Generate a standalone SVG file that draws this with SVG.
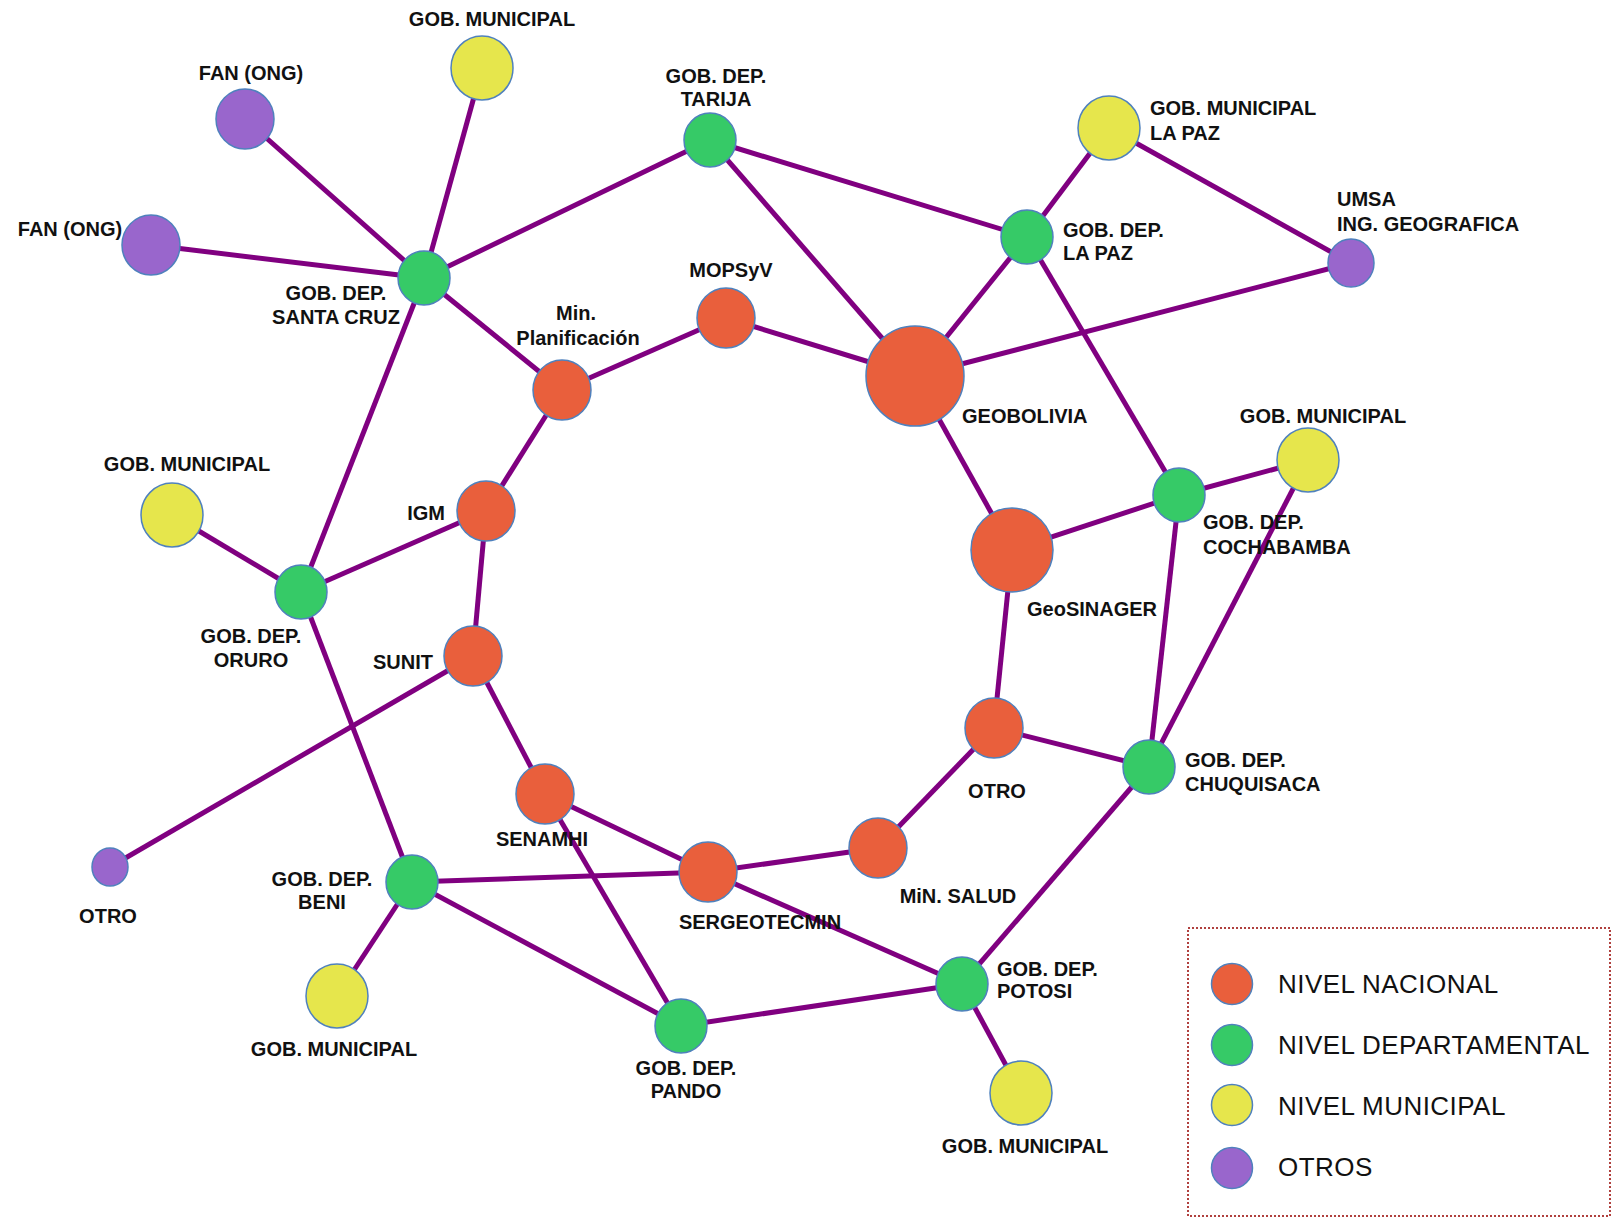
<svg xmlns="http://www.w3.org/2000/svg" width="1614" height="1224" viewBox="0 0 1614 1224">
<style>
.e{stroke:#800080;stroke-width:5;fill:none}
.n{stroke:#4F81BD;stroke-width:1.5}
.nac{fill:#E95F3C}
.dep{fill:#36CA67}
.mun{fill:#E6E64C}
.otr{fill:#9966CC}
text{font-family:"Liberation Sans",Arial,sans-serif;fill:#111}
.l{font-size:20px;font-weight:bold}
.c{text-anchor:middle}
.r{text-anchor:end}
.lg{font-size:26px;letter-spacing:0.45px}
</style>
<rect width="1614" height="1224" fill="#fff"/>
<g id="connectors">
<line class="e" x1="245" y1="119" x2="424" y2="278"/>
<line class="e" x1="482" y1="68" x2="424" y2="278"/>
<line class="e" x1="151" y1="245" x2="424" y2="278"/>
<line class="e" x1="424" y1="278" x2="710" y2="140"/>
<line class="e" x1="424" y1="278" x2="562" y2="390"/>
<line class="e" x1="424" y1="278" x2="301" y2="592"/>
<line class="e" x1="710" y1="140" x2="1027" y2="237"/>
<line class="e" x1="710" y1="140" x2="915" y2="376"/>
<line class="e" x1="726" y1="318" x2="562" y2="390"/>
<line class="e" x1="726" y1="318" x2="915" y2="376"/>
<line class="e" x1="915" y1="376" x2="1027" y2="237"/>
<line class="e" x1="915" y1="376" x2="1351" y2="263"/>
<line class="e" x1="915" y1="376" x2="1012" y2="550"/>
<line class="e" x1="1027" y1="237" x2="1109" y2="128"/>
<line class="e" x1="1109" y1="128" x2="1351" y2="263"/>
<line class="e" x1="1027" y1="237" x2="1179" y2="495"/>
<line class="e" x1="1179" y1="495" x2="1308" y2="460"/>
<line class="e" x1="1179" y1="495" x2="1012" y2="550"/>
<line class="e" x1="1179" y1="495" x2="1149" y2="767"/>
<line class="e" x1="1308" y1="460" x2="1149" y2="767"/>
<line class="e" x1="1012" y1="550" x2="994" y2="728"/>
<line class="e" x1="994" y1="728" x2="1149" y2="767"/>
<line class="e" x1="994" y1="728" x2="878" y2="848"/>
<line class="e" x1="1149" y1="767" x2="962" y2="984"/>
<line class="e" x1="562" y1="390" x2="486" y2="511"/>
<line class="e" x1="486" y1="511" x2="301" y2="592"/>
<line class="e" x1="486" y1="511" x2="473" y2="656"/>
<line class="e" x1="172" y1="515" x2="301" y2="592"/>
<line class="e" x1="301" y1="592" x2="412" y2="882"/>
<line class="e" x1="473" y1="656" x2="110" y2="867"/>
<line class="e" x1="473" y1="656" x2="545" y2="794"/>
<line class="e" x1="545" y1="794" x2="708" y2="872"/>
<line class="e" x1="545" y1="794" x2="681" y2="1026"/>
<line class="e" x1="878" y1="848" x2="708" y2="872"/>
<line class="e" x1="708" y1="872" x2="412" y2="882"/>
<line class="e" x1="708" y1="872" x2="962" y2="984"/>
<line class="e" x1="412" y1="882" x2="681" y2="1026"/>
<line class="e" x1="412" y1="882" x2="337" y2="996"/>
<line class="e" x1="681" y1="1026" x2="962" y2="984"/>
<line class="e" x1="962" y1="984" x2="1021" y2="1093"/>
</g>
<g id="gm-top"><ellipse class="n mun" cx="482" cy="68" rx="31" ry="32"/><text class="l c" x="492" y="26">GOB. MUNICIPAL</text></g>
<g id="fan-top"><ellipse class="n otr" cx="245" cy="119" rx="29" ry="30"/><text class="l c" x="251" y="80">FAN (ONG)</text></g>
<g id="fan-left"><ellipse class="n otr" cx="151" cy="245" rx="29" ry="30"/><text class="l c" x="70" y="236">FAN (ONG)</text></g>
<g id="dep-santacruz"><ellipse class="n dep" cx="424" cy="278" rx="26" ry="27"/><text class="l c" x="336" y="300">GOB. DEP.</text><text class="l c" x="336" y="324">SANTA CRUZ</text></g>
<g id="dep-tarija"><ellipse class="n dep" cx="710" cy="140" rx="26" ry="27"/><text class="l c" x="716" y="83">GOB. DEP.</text><text class="l c" x="716" y="106">TARIJA</text></g>
<g id="mopsyv"><ellipse class="n nac" cx="726" cy="318" rx="29" ry="30"/><text class="l c" x="731" y="277">MOPSyV</text></g>
<g id="minplan"><ellipse class="n nac" cx="562" cy="390" rx="29" ry="30"/><text class="l c" x="576" y="320">Min.</text><text class="l c" x="578" y="345">Planificación</text></g>
<g id="geobolivia"><ellipse class="n nac" cx="915" cy="376" rx="49" ry="50"/><text class="l" x="962" y="423">GEOBOLIVIA</text></g>
<g id="dep-lapaz"><ellipse class="n dep" cx="1027" cy="237" rx="26" ry="27"/><text class="l" x="1063" y="237">GOB. DEP.</text><text class="l" x="1063" y="260">LA PAZ</text></g>
<g id="gm-lapaz"><ellipse class="n mun" cx="1109" cy="128" rx="31" ry="32"/><text class="l" x="1150" y="115">GOB. MUNICIPAL</text><text class="l" x="1150" y="140">LA PAZ</text></g>
<g id="umsa"><ellipse class="n otr" cx="1351" cy="263" rx="23" ry="24"/><text class="l" x="1337" y="206">UMSA</text><text class="l" x="1337" y="231">ING. GEOGRAFICA</text></g>
<g id="gm-right"><ellipse class="n mun" cx="1308" cy="460" rx="31" ry="32"/><text class="l c" x="1323" y="423">GOB. MUNICIPAL</text></g>
<g id="dep-cochabamba"><ellipse class="n dep" cx="1179" cy="495" rx="26" ry="27"/><text class="l" x="1203" y="529">GOB. DEP.</text><text class="l" x="1203" y="554">COCHABAMBA</text></g>
<g id="geosinager"><ellipse class="n nac" cx="1012" cy="550" rx="41" ry="42"/><text class="l" x="1027" y="616">GeoSINAGER</text></g>
<g id="igm"><ellipse class="n nac" cx="486" cy="511" rx="29" ry="30"/><text class="l r" x="445" y="520">IGM</text></g>
<g id="gm-left"><ellipse class="n mun" cx="172" cy="515" rx="31" ry="32"/><text class="l c" x="187" y="471">GOB. MUNICIPAL</text></g>
<g id="dep-oruro"><ellipse class="n dep" cx="301" cy="592" rx="26" ry="27"/><text class="l c" x="251" y="643">GOB. DEP.</text><text class="l c" x="251" y="667">ORURO</text></g>
<g id="sunit"><ellipse class="n nac" cx="473" cy="656" rx="29" ry="30"/><text class="l r" x="433" y="669">SUNIT</text></g>
<g id="otro-right"><ellipse class="n nac" cx="994" cy="728" rx="29" ry="30"/><text class="l c" x="997" y="798">OTRO</text></g>
<g id="dep-chuquisaca"><ellipse class="n dep" cx="1149" cy="767" rx="26" ry="27"/><text class="l" x="1185" y="767">GOB. DEP.</text><text class="l" x="1185" y="791">CHUQUISACA</text></g>
<g id="senamhi"><ellipse class="n nac" cx="545" cy="794" rx="29" ry="30"/><text class="l c" x="542" y="846">SENAMHI</text></g>
<g id="minsalud"><ellipse class="n nac" cx="878" cy="848" rx="29" ry="30"/><text class="l c" x="958" y="903">MiN. SALUD</text></g>
<g id="sergeotecmin"><ellipse class="n nac" cx="708" cy="872" rx="29" ry="30"/><text class="l c" x="760" y="929">SERGEOTECMIN</text></g>
<g id="otro-left"><ellipse class="n otr" cx="110" cy="867" rx="18" ry="19"/><text class="l c" x="108" y="923">OTRO</text></g>
<g id="dep-beni"><ellipse class="n dep" cx="412" cy="882" rx="26" ry="27"/><text class="l c" x="322" y="886">GOB. DEP.</text><text class="l c" x="322" y="909">BENI</text></g>
<g id="gm-bottomleft"><ellipse class="n mun" cx="337" cy="996" rx="31" ry="32"/><text class="l c" x="334" y="1056">GOB. MUNICIPAL</text></g>
<g id="dep-pando"><ellipse class="n dep" cx="681" cy="1026" rx="26" ry="27"/><text class="l c" x="686" y="1075">GOB. DEP.</text><text class="l c" x="686" y="1098">PANDO</text></g>
<g id="dep-potosi"><ellipse class="n dep" cx="962" cy="984" rx="26" ry="27"/><text class="l" x="997" y="976">GOB. DEP.</text><text class="l" x="997" y="998">POTOSI</text></g>
<g id="gm-bottomright"><ellipse class="n mun" cx="1021" cy="1093" rx="31" ry="32"/><text class="l c" x="1025" y="1153">GOB. MUNICIPAL</text></g>
<g id="legend">
<rect x="1188" y="928" width="422" height="288" fill="none" stroke="#B0403E" stroke-width="2" stroke-dasharray="2 2"/>
<circle class="n nac" cx="1232" cy="984" r="20.5"/><text class="lg" x="1278" y="993">NIVEL NACIONAL</text>
<circle class="n dep" cx="1232" cy="1045" r="20.5"/><text class="lg" x="1278" y="1054">NIVEL DEPARTAMENTAL</text>
<circle class="n mun" cx="1232" cy="1105" r="20.5"/><text class="lg" x="1278" y="1115">NIVEL MUNICIPAL</text>
<circle class="n otr" cx="1232" cy="1168" r="20.5"/><text class="lg" x="1278" y="1176">OTROS</text>
</g>
</svg>
